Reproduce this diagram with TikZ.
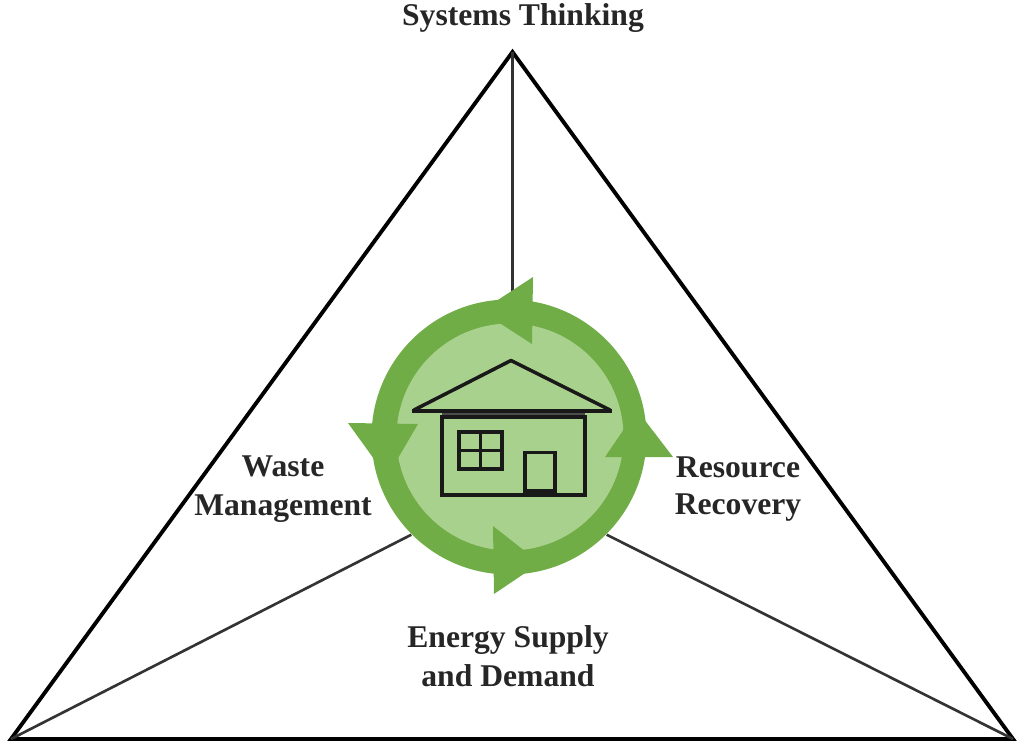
\documentclass[tikz,border=0pt]{standalone}
\usepackage{fontspec}
\setmainfont{Liberation Serif}
\definecolor{ringgreen}{HTML}{70AD47}
\definecolor{palegreen}{HTML}{A9D18E}
\begin{document}
\begin{tikzpicture}[font=\fontsize{9}{11.1}\selectfont\bfseries,
	label/.style={align=center,inner sep=0pt,text=black!85},
	spoke/.style={line width=0.75pt,black!80},
	edge/.style={line width=1.1pt},
	head/.style={fill=ringgreen},
	wall/.style={line width=1.1pt,black!90}]
	\useasboundingbox (0,0) rectangle (10.24,7.47);
	% triangle
	\coordinate (apex) at (5.125,6.95);
	\coordinate (left) at (0.11,0.08);
	\coordinate (right) at (10.13,0.08);
	\draw[edge] (apex)--(left)--(right)--cycle;
	% centre
	\node[circle,fill=ringgreen,minimum size=2.75cm,inner sep=0pt] (hub) at (5.09,3.10) {};
	\node[circle,fill=palegreen,minimum size=2.27cm,inner sep=0pt] (hubin) at (5.10,3.10) {};
	\draw[spoke] (apex)--(apex|-hub.north);
	\draw[spoke] (left)--(hub.225);
	\draw[spoke] (right)--(hub.-45);
	% arrow heads
	\fill[head] (5.33,4.70)--(5.32,4.03)--(4.81,4.36)--cycle;
	\fill[head] (3.48,3.24)--(4.18,3.23)--(3.87,2.70)--cycle;
	\fill[head] (4.93,2.21)--(4.94,1.53)--(5.40,1.84)--cycle;
	\fill[head] (6.05,2.90)--(6.73,2.90)--(6.37,3.37)--cycle;
	% house
	\draw[wall,line width=1pt,line join=round] (4.14,3.37)--(5.11,3.865)--(6.10,3.37);
	\draw[line width=1.3pt,black!90] (4.12,3.36)--(6.12,3.36);
	\fill[black!70] (4.42,3.34) rectangle (5.85,3.28);
	\draw[wall] (4.42,3.30) rectangle (5.85,2.52);
	\draw[wall] (4.59,3.15) rectangle (5.02,2.78);
	\draw[wall] (4.805,3.15)--(4.805,2.78);
	\draw[wall] (4.59,2.965)--(5.02,2.965);
	\draw[wall] (5.25,2.945) rectangle (5.55,2.53);
	\fill[black!90] (5.25,2.58) rectangle (5.55,2.52);
	% labels
	\node[label] (sys) at (5.23,7.29) {Systems Thinking};
	\node[label] (waste) at (2.83,2.58) {Waste\\Management};
	\node[label] (res) at (7.38,2.58) {Resource\\[-0.6pt]Recovery};
	\node[label] (energy) at (5.08,0.91) {Energy Supply\\and Demand};
\end{tikzpicture}
\end{document}
